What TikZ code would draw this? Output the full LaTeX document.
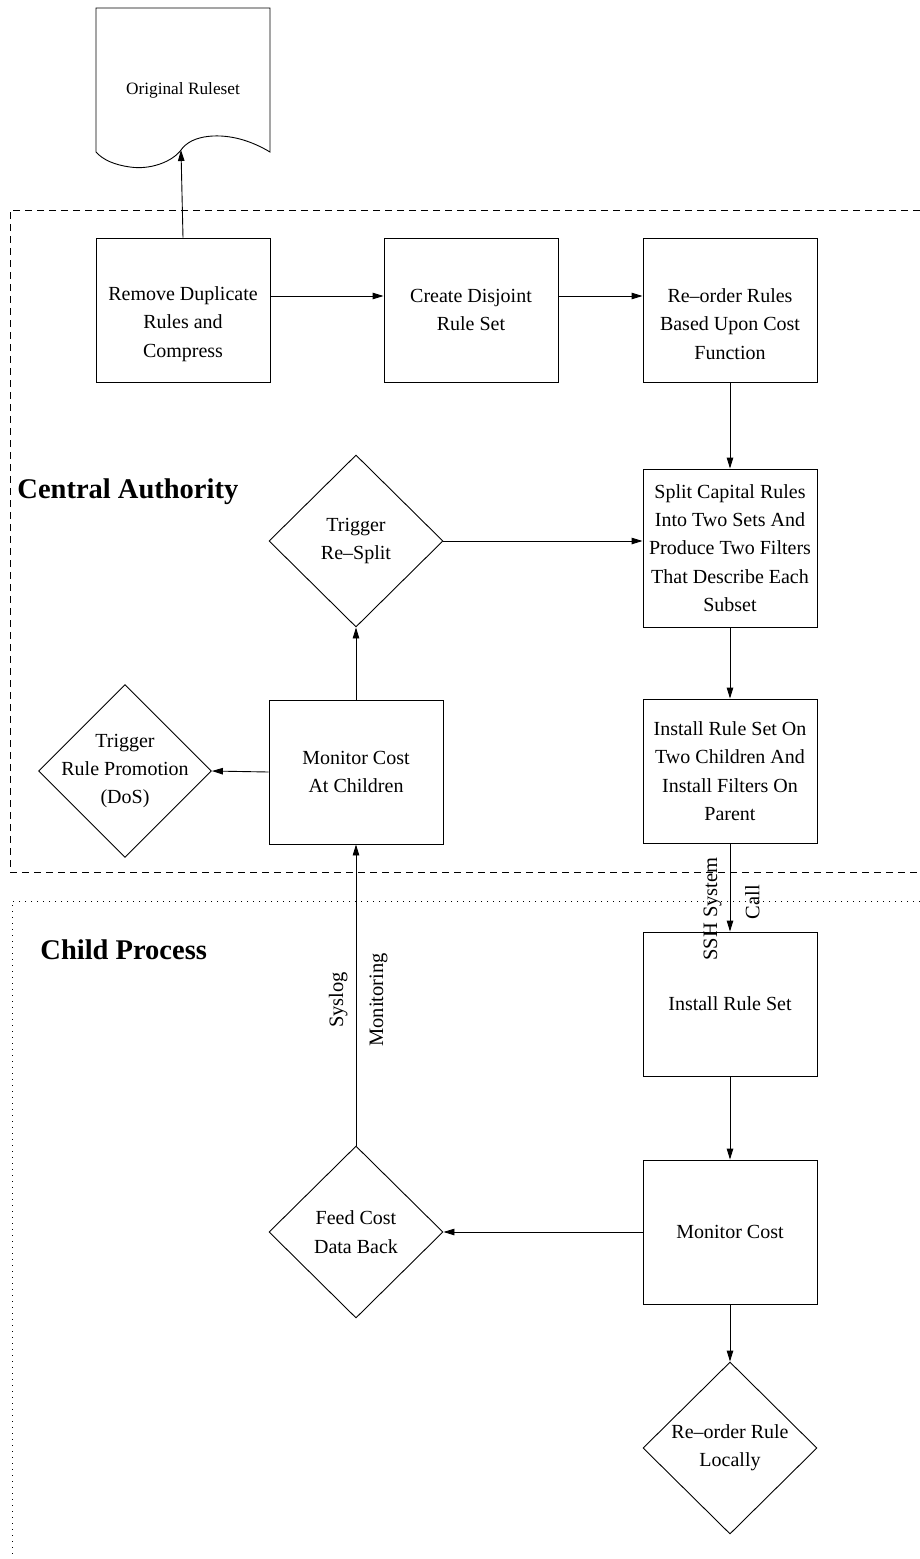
\documentclass[tikz,border=0pt]{standalone}
\usepackage{fontspec}
\setmainfont{Liberation Serif}
\usetikzlibrary{shapes.geometric,arrows.meta}

\begin{document}
\begin{tikzpicture}[x=1pt,y=-1pt,
  line width=0.9pt,
  boxtxt/.style={font=\fontsize{20}{28.3}\selectfont, align=center},
  stepbox/.style={draw, boxtxt, minimum width=174pt, minimum height=144pt, inner sep=0pt},
  decide/.style={draw, diamond, minimum width=174pt, minimum height=172pt, inner sep=0pt},
  arr/.style={-{Triangle[length=11pt,width=6.5pt]}},
  region/.style={font=\fontsize{28.5}{32}\selectfont\bfseries, anchor=west, inner sep=0pt},
  sidelabel/.style={font=\fontsize{20.5}{22}\selectfont, rotate=90, inner sep=0pt}
]
\useasboundingbox (0,0) rectangle (920,1559);

% Central authority region (dashed) and child process region (dotted)
\draw[dash pattern=on 7pt off 5pt] (920,210) -- (10,210) -- (10,872) -- (920,872);
\draw[dash pattern=on 1.2pt off 4.8pt] (920,901) -- (12,901) -- (12,1559);

\node[region] (ca) at (17,492) {Central Authority};
\node[region] (cp) at (40,950) {Child Process};

% Document shape for the original ruleset
\draw (96,152) -- (96,8) -- (270,8) -- (270,152)
  .. controls (255,143) and (235,135) .. (213,136)
  .. controls (195,137) and (186,143) .. (181,150)
  .. controls (172,162) and (150,170) .. (130,167)
  .. controls (115,165) and (103,160) .. (96,152);
\node[font=\fontsize{17.3}{20}\selectfont] (doc) at (183,90) {Original Ruleset};
\coordinate (docb) at (181,150);

% Central authority steps
\node[stepbox] (rem) at (183,310) {};
\node[boxtxt] (rem-t) at ([yshift=-14pt]rem.center) {Remove Duplicate\\Rules and\\Compress};
\node[stepbox] (dis) at (471,310) {Create Disjoint\\Rule Set};
\node[stepbox] (reo) at (730,310) {};
\node[boxtxt] (reo-t) at ([yshift=-14pt]reo.center) {Re--order Rules\\Based Upon Cost\\Function};
\node[stepbox, minimum height=158pt] (spl) at (730,548)
  {Split Capital Rules\\Into Two Sets And\\Produce Two Filters\\That Describe Each\\Subset};
\node[stepbox] (ins2) at (730,771)
  {Install Rule Set On\\Two Children And\\Install Filters On\\Parent};
\node[stepbox] (mon) at (356,772) {Monitor Cost\\At Children};

\node[decide] (rsp) at (356,541) {};
\node[boxtxt] (rsp-t) at (rsp) {Trigger\\Re--Split};
\node[decide, minimum width=173pt, minimum height=173pt] (pro) at (125,771) {};
\node[boxtxt] (pro-t) at (pro) {Trigger\\Rule Promotion\\(DoS)};

% Child process steps
\node[stepbox] (ins) at (730,1004) {Install Rule Set};
\node[stepbox] (mcost) at (730,1232) {Monitor Cost};
\node[decide] (feed) at (356,1232) {};
\node[boxtxt] (feed-t) at (feed) {Feed Cost\\Data Back};
\node[decide] (loc) at (730,1448) {};
\node[boxtxt] (loc-t) at (loc) {Re--order Rule\\Locally};

% Connectors
\draw[arr] (rem.north) -- (docb);
\draw[arr] ([yshift=14pt]rem.east) -- ([yshift=14pt]dis.west);
\draw[arr] ([yshift=14pt]dis.east) -- ([yshift=14pt]reo.west);
\draw[arr] (reo.south) -- (spl.north);
\draw[arr] (rsp.east) -- (rsp.east -| spl.west);
\draw[arr] (spl.south) -- (ins2.north);
\draw[arr] (mon.north) -- (rsp.south);
\draw[arr] (mon.west) -- (pro.east);
\draw[arr] (ins2.south) -- (ins.north);
\draw[arr] (ins.south) -- (mcost.north);
\draw[arr] (mcost.west) -- (feed.east);
\draw[arr] (mcost.south) -- (loc.north);
\draw[arr] (feed.north) -- (mon.south);

% Labels on the vertical connectors
\node[sidelabel, anchor=south] (ssh1) at (722,909) {SSH System};
\node[sidelabel, anchor=south] (ssh2) at (760,902) {Call};
\node[sidelabel, anchor=south] (sys1) at (348,1000) {Syslog};
\node[sidelabel, anchor=north] (sys2) at (369,1000) {Monitoring};
\end{tikzpicture}
\end{document}
